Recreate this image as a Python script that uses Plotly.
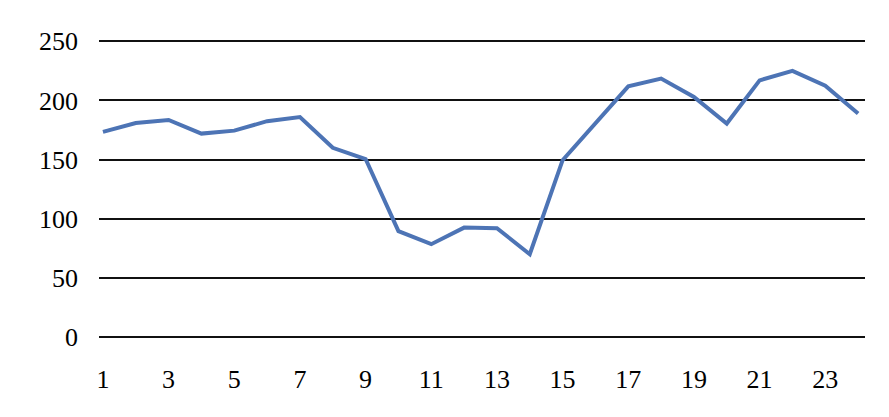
import plotly.graph_objects as go

x_vals = list(range(1, 25))
y_vals = [173.5, 181, 183.5, 172, 174.5, 182.5, 186, 160, 150.5, 89.5, 78.5, 92.5, 92, 70,
          149.5, 180.5, 212, 218.5, 203, 180.5, 217, 225, 212.5, 189]
x_ticks = list(range(1, 24, 2))
y_ticks = [0, 50, 100, 150, 200, 250]

fig = go.Figure()
fig.add_trace(go.Scatter(
    x=x_vals, y=y_vals, mode="lines",
    line=dict(color="#4D74B5", width=4),
    showlegend=False, hoverinfo="skip"))

# page body has an 8px margin, so the figure is sized/offset to compensate
fig.update_layout(
    width=881, height=409,
    margin=dict(l=91, r=24, t=31, b=80, autoexpand=False),
    paper_bgcolor="white", plot_bgcolor="white",
    font=dict(family="Liberation Serif, Times New Roman, serif", size=26, color="black"),
)
fig.update_xaxes(
    range=[0.88, 24.21], tickvals=x_ticks, ticktext=[str(v) for v in x_ticks],
    showgrid=False, zeroline=False, showline=False, ticks="",
    ticklabelstandoff=24, automargin=False,
)
fig.update_yaxes(
    range=[0, 252], tickvals=y_ticks, ticktext=[str(v) for v in y_ticks],
    showgrid=True, gridcolor="#111111", gridwidth=2,
    zeroline=True, zerolinecolor="#111111", zerolinewidth=2,
    showline=False, ticks="", ticklabelstandoff=20, automargin=False,
)
fig.write_html("out.html")
